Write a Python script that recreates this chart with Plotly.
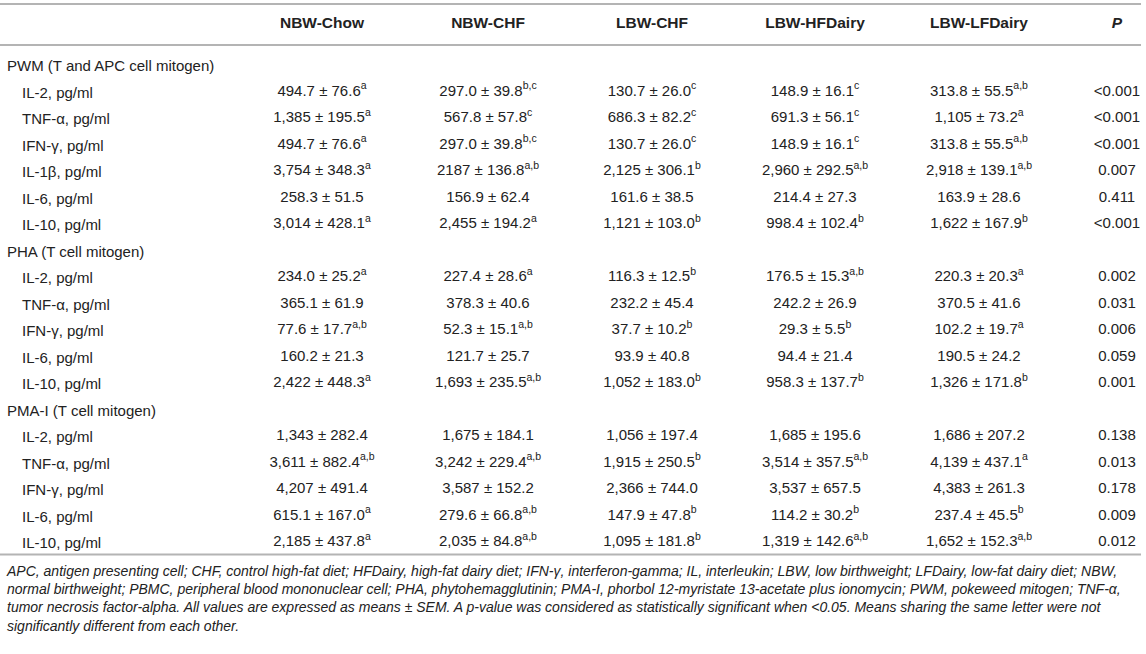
import plotly.graph_objects as go

# table content
columns = ["NBW-Chow", "NBW-CHF", "LBW-CHF", "LBW-HFDairy", "LBW-LFDairy"]
groups = ["PWM (T and APC cell mitogen)", "PHA (T cell mitogen)", "PMA-I (T cell mitogen)"]
cytokines = [
    ["IL-2, pg/ml", "TNF-α, pg/ml", "IFN-γ, pg/ml", "IL-1β, pg/ml", "IL-6, pg/ml", "IL-10, pg/ml"],
    ["IL-2, pg/ml", "TNF-α, pg/ml", "IFN-γ, pg/ml", "IL-6, pg/ml", "IL-10, pg/ml"],
    ["IL-2, pg/ml", "TNF-α, pg/ml", "IFN-γ, pg/ml", "IL-6, pg/ml", "IL-10, pg/ml"],
]

nbw_chow = ["494.7 ± 76.6", "1,385 ± 195.5", "494.7 ± 76.6", "3,754 ± 348.3", "258.3 ± 51.5", "3,014 ± 428.1",
            "234.0 ± 25.2", "365.1 ± 61.9", "77.6 ± 17.7", "160.2 ± 21.3", "2,422 ± 448.3",
            "1,343 ± 282.4", "3,611 ± 882.4", "4,207 ± 491.4", "615.1 ± 167.0", "2,185 ± 437.8"]
nbw_chow_sup = ["a", "a", "a", "a", "", "a",
                "a", "", "a,b", "", "a",
                "", "a,b", "", "a", "a"]

nbw_chf = ["297.0 ± 39.8", "567.8 ± 57.8", "297.0 ± 39.8", "2187 ± 136.8", "156.9 ± 62.4", "2,455 ± 194.2",
           "227.4 ± 28.6", "378.3 ± 40.6", "52.3 ± 15.1", "121.7 ± 25.7", "1,693 ± 235.5",
           "1,675 ± 184.1", "3,242 ± 229.4", "3,587 ± 152.2", "279.6 ± 66.8", "2,035 ± 84.8"]
nbw_chf_sup = ["b,c", "c", "b,c", "a,b", "", "a",
               "a", "", "a,b", "", "a,b",
               "", "a,b", "", "a,b", "a,b"]

lbw_chf = ["130.7 ± 26.0", "686.3 ± 82.2", "130.7 ± 26.0", "2,125 ± 306.1", "161.6 ± 38.5", "1,121 ± 103.0",
           "116.3 ± 12.5", "232.2 ± 45.4", "37.7 ± 10.2", "93.9 ± 40.8", "1,052 ± 183.0",
           "1,056 ± 197.4", "1,915 ± 250.5", "2,366 ± 744.0", "147.9 ± 47.8", "1,095 ± 181.8"]
lbw_chf_sup = ["c", "c", "c", "b", "", "b",
               "b", "", "b", "", "b",
               "", "b", "", "b", "b"]

lbw_hfdairy = ["148.9 ± 16.1", "691.3 ± 56.1", "148.9 ± 16.1", "2,960 ± 292.5", "214.4 ± 27.3", "998.4 ± 102.4",
               "176.5 ± 15.3", "242.2 ± 26.9", "29.3 ± 5.5", "94.4 ± 21.4", "958.3 ± 137.7",
               "1,685 ± 195.6", "3,514 ± 357.5", "3,537 ± 657.5", "114.2 ± 30.2", "1,319 ± 142.6"]
lbw_hfdairy_sup = ["c", "c", "c", "a,b", "", "b",
                   "a,b", "", "b", "", "b",
                   "", "a,b", "", "b", "a,b"]

lbw_lfdairy = ["313.8 ± 55.5", "1,105 ± 73.2", "313.8 ± 55.5", "2,918 ± 139.1", "163.9 ± 28.6", "1,622 ± 167.9",
               "220.3 ± 20.3", "370.5 ± 41.6", "102.2 ± 19.7", "190.5 ± 24.2", "1,326 ± 171.8",
               "1,686 ± 207.2", "4,139 ± 437.1", "4,383 ± 261.3", "237.4 ± 45.5", "1,652 ± 152.3"]
lbw_lfdairy_sup = ["a,b", "a", "a,b", "a,b", "", "b",
                   "a", "", "a", "", "b",
                   "", "a", "", "b", "a,b"]

p_values = ["<0.001", "<0.001", "<0.001", "0.007", "0.411", "<0.001",
            "0.002", "0.031", "0.006", "0.059", "0.001",
            "0.138", "0.013", "0.178", "0.009", "0.012"]

footnote = [
    "APC, antigen presenting cell; CHF, control high-fat diet; HFDairy, high-fat dairy diet; IFN-γ, interferon-gamma; "
    "IL, interleukin; LBW, low birthweight; LFDairy, low-fat dairy diet; NBW,",
    "normal birthweight; PBMC, peripheral blood mononuclear cell; PHA, phytohemagglutinin; PMA-I, phorbol 12-myristate "
    "13-acetate plus ionomycin; PWM, pokeweed mitogen; TNF-α,",
    "tumor necrosis factor-alpha. All values are expressed as means ± SEM. A p-value was considered as statistically "
    "significant when &lt;0.05. Means sharing the same letter were not",
    "significantly different from each other.",
]

# layout (pixel units)
W, H = 1146, 654
col_x = [322, 488, 652, 815, 979]
p_x = 1117
header_y = 24
row0_y = 65.5
row_h = 26.5
FONT = "Liberation Sans"
INK = "#222222"
RULE = "#b4b4b4"

# work out the row each text sits on
data_y = []
label_rows = []
r = 0
for g, items in zip(groups, cytokines):
    label_rows.append((g, row0_y + r * row_h, 5))
    r += 1
    for item in items:
        y = row0_y + r * row_h
        label_rows.append((item, y, 20))
        data_y.append(y)
        r += 1
bottom_y = row0_y + (r - 1) * row_h + 12


def with_sup(vals, sups):
    return [v + ("<sup>" + s + "</sup>" if s else "") for v, s in zip(vals, sups)]


fig = go.Figure()

value_cols = [(nbw_chow, nbw_chow_sup), (nbw_chf, nbw_chf_sup), (lbw_chf, lbw_chf_sup),
              (lbw_hfdairy, lbw_hfdairy_sup), (lbw_lfdairy, lbw_lfdairy_sup)]
for x, (vals, sups) in zip(col_x, value_cols):
    fig.add_trace(go.Scatter(x=[x] * len(vals), y=data_y, mode="text",
                             text=with_sup(vals, sups), textposition="middle center",
                             textfont=dict(family=FONT, size=15, color=INK),
                             hoverinfo="skip", showlegend=False))

fig.add_trace(go.Scatter(x=[p_x] * len(p_values), y=data_y, mode="text",
                         text=[p.replace("<", "&lt;") for p in p_values], textposition="middle center",
                         textfont=dict(family=FONT, size=15, color=INK),
                         hoverinfo="skip", showlegend=False))

# header row
fig.add_trace(go.Scatter(x=col_x + [p_x], y=[header_y] * 6, mode="text",
                         text=["<b>" + c + "</b>" for c in columns] + ["<b><i>P</i></b>"],
                         textposition="middle center",
                         textfont=dict(family=FONT, size=15.5, color=INK),
                         hoverinfo="skip", showlegend=False))

# row labels
for text, y, x in label_rows:
    fig.add_annotation(x=x, y=y, xref="x", yref="y", text=text, showarrow=False,
                       xanchor="left", yanchor="middle",
                       font=dict(family=FONT, size=15, color=INK))

# rules
for y in [4, 45, bottom_y]:
    fig.add_shape(type="line", x0=0, x1=1141, y0=y, y1=y, xref="x", yref="y",
                  line=dict(color=RULE, width=2))

fig.add_annotation(x=4, y=bottom_y + 6, xref="x", yref="y", text="<br>".join(footnote),
                   showarrow=False, xanchor="left", yanchor="top", align="left",
                   font=dict(family=FONT, size=14, color=INK, style="italic"))

fig.update_layout(
    width=W, height=H,
    margin=dict(l=0, r=0, t=0, b=0),
    paper_bgcolor="white", plot_bgcolor="white",
    xaxis=dict(range=[0, W], visible=False, fixedrange=True),
    yaxis=dict(range=[H, 0], visible=False, fixedrange=True),
)

# drop the default page margin so the table sits at the window corner
fig.write_html("out.html", config={"displayModeBar": False},
               post_script="document.body.style.margin='0';")
